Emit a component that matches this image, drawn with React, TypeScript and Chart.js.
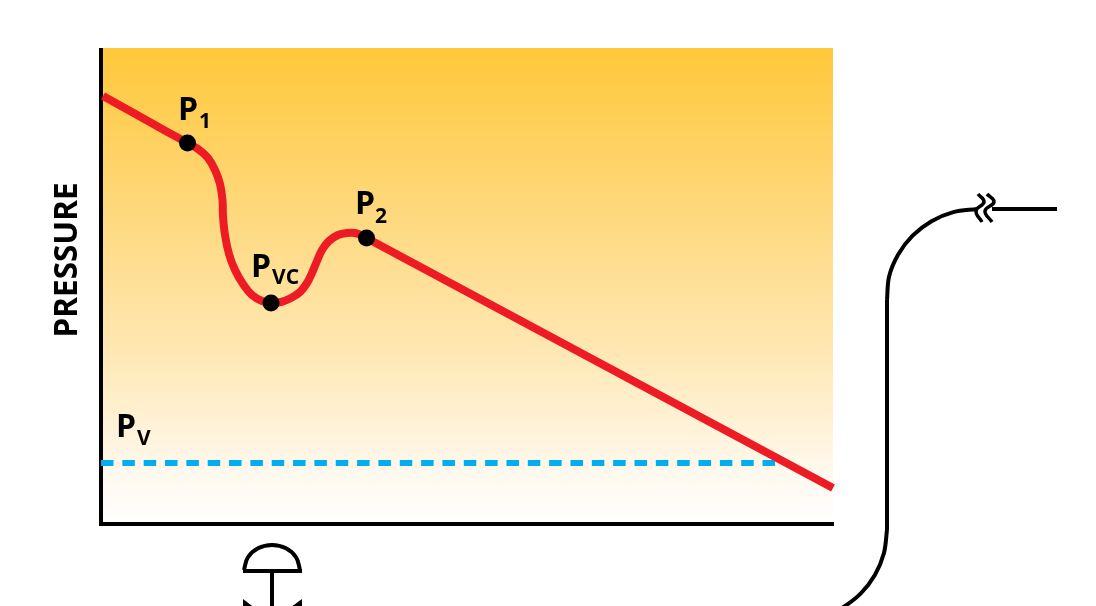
import React, { useEffect, useRef } from "react";
import { Chart, registerables } from "chart.js";

Chart.register(...registerables);

const X_MAX = 732;
const Y_MAX = 474;
const PLOT_TOP_VALUE = 476;

// Pressure profile (distance, pressure)
const pressureX = [2, 66, 86.5, 97, 107, 114, 119, 121.5, 122, 124, 128, 134, 142, 151, 161, 170, 180, 190, 199, 206, 211, 216, 221, 228, 237, 246, 254, 260, 265.5, 285, 732];
const pressureY = [428, 392.3, 381, 375, 366, 354, 340, 324, 308, 289, 270, 254, 240, 229, 223, 221, 222, 226, 232, 241, 251, 263, 274, 283, 289, 291, 291, 289, 286, 275.5, 36];

const markerX = [86.5, 170, 265.5];
const markerY = [381, 221, 286];

const vaporX = [0, 676];
const vaporY = [61, 61];

// Schematic: valve
const domeX = [143, 146.8, 157, 171, 185, 195.2, 199];
const domeY = [-46, -33.5, -24.3, -21, -24.3, -33.5, -46];
const domeBaseX = [142, 201];
const domeBaseY = [-47, -47];
const stemX = [171, 171];
const stemY = [-47, -97];
const leftWedgeX = [142, 171, 142];
const rightWedgeX = [201, 171, 201];
const wedgeY = [-75, -97, -119];

// Schematic: pipe
const pipeUpperX = [876, 852.4, 830.5, 811.6, 797.2, 788.1, 786];
const pipeUpperY = [315, 311.9, 302.8, 288.3, 269.5, 247.6, 224];
const pipeRiserX = [786, 786];
const pipeRiserY = [224, -6];
const pipeLowerX = [786, 782.9, 773.9, 759.6, 741, 720];
const pipeLowerY = [-6, -29.3, -51, -69.6, -84, -95];
const pipeTailX = [891, 956];
const pipeTailY = [315, 315];
const breakAX = [877, 883, 875, 881];
const breakBX = [886, 893, 884, 891];
const breakY = [330, 322, 313, 302];

// Labels: main text, subscript, position of main, position of subscript
const labelMain = ["P", "P", "P", "P"];
const labelSub = ["1", "VC", "2", "V"];
const labelX = [77, 150, 254, 15];
const labelY = [404, 247, 310, 87];
const labelSubX = [98, 171, 274, 36];
const labelSubY = [396, 240, 301, 79];
const axisTitle = "PRESSURE";
const axisTitleX = -33;
const axisTitleY = 264;

const FONT = '"Open Sans", "Noto Sans", sans-serif';

const toPoints = (xs: number[], ys: number[]) => xs.map((x, i) => ({ x, y: ys[i] }));

const shape = (xs: number[], ys: number[], width: number, tension = 0) => ({
  data: toPoints(xs, ys),
  showLine: true,
  pointRadius: 0,
  borderColor: "#000000",
  borderWidth: width,
  tension,
  clip: false as const,
  order: 5,
});

const backgroundPlugin = {
  id: "plotBackground",
  beforeDraw(chart: any) {
    const { ctx, chartArea: a, scales } = chart;
    const top = scales.y.getPixelForValue(PLOT_TOP_VALUE);
    const g = ctx.createLinearGradient(0, top, 0, a.bottom);
    g.addColorStop(0, "#FFC83A");
    g.addColorStop(0.32, "#FED778");
    g.addColorStop(0.63, "#FFE7B2");
    g.addColorStop(0.9, "#FFF9EF");
    g.addColorStop(1, "#FFFFFE");
    ctx.save();
    ctx.fillStyle = g;
    ctx.fillRect(a.left, top, a.right - a.left, a.bottom - top);
    ctx.restore();
  },
};

const wedgePlugin = {
  id: "valveWedges",
  afterDatasetsDraw(chart: any) {
    const { ctx, scales } = chart;
    ctx.save();
    ctx.fillStyle = "#000000";
    [leftWedgeX, rightWedgeX].forEach((xs) => {
      ctx.beginPath();
      xs.forEach((x, i) => {
        const px = scales.x.getPixelForValue(x);
        const py = scales.y.getPixelForValue(wedgeY[i]);
        if (i === 0) ctx.moveTo(px, py);
        else ctx.lineTo(px, py);
      });
      ctx.closePath();
      ctx.fill();
    });
    ctx.restore();
  },
};

const labelPlugin = {
  id: "textLabels",
  afterDatasetsDraw(chart: any) {
    const { ctx, scales } = chart;
    ctx.save();
    ctx.fillStyle = "#000000";
    ctx.textAlign = "left";
    ctx.textBaseline = "alphabetic";
    labelMain.forEach((t, i) => {
      ctx.font = `700 32px ${FONT}`;
      ctx.fillText(t, scales.x.getPixelForValue(labelX[i]), scales.y.getPixelForValue(labelY[i]));
      ctx.font = `700 21px ${FONT}`;
      ctx.fillText(labelSub[i], scales.x.getPixelForValue(labelSubX[i]), scales.y.getPixelForValue(labelSubY[i]));
    });
    ctx.translate(scales.x.getPixelForValue(axisTitleX), scales.y.getPixelForValue(axisTitleY));
    ctx.rotate(-Math.PI / 2);
    ctx.textAlign = "center";
    ctx.textBaseline = "middle";
    ctx.font = `700 31.5px ${FONT}`;
    ctx.fillText(axisTitle, 0, 0);
    ctx.restore();
  },
};

export default function App() {
  const ref = useRef<HTMLCanvasElement>(null);

  useEffect(() => {
    const chart = new Chart(ref.current as HTMLCanvasElement, {
      type: "scatter",
      data: {
        datasets: [
          {
            data: toPoints(markerX, markerY),
            showLine: false,
            pointRadius: 8.5,
            pointBackgroundColor: "#000000",
            pointBorderWidth: 0,
            clip: false,
            order: 0,
          },
          {
            data: toPoints(pressureX, pressureY),
            showLine: true,
            pointRadius: 0,
            borderColor: "#ED1C24",
            borderWidth: 8,
            tension: 0.35,
            clip: false,
            order: 1,
          },
          {
            data: toPoints(vaporX, vaporY),
            showLine: true,
            pointRadius: 0,
            borderColor: "#00AEEF",
            borderWidth: 6,
            borderDash: [12.5, 8.84],
            clip: false,
            order: 2,
          },
          shape(domeX, domeY, 4, 0.4),
          shape(domeBaseX, domeBaseY, 4),
          shape(stemX, stemY, 4),
          shape(pipeUpperX, pipeUpperY, 4, 0.35),
          shape(pipeRiserX, pipeRiserY, 4),
          shape(pipeLowerX, pipeLowerY, 4, 0.35),
          shape(pipeTailX, pipeTailY, 4),
          shape(breakAX, breakY, 3.5, 0.45),
          shape(breakBX, breakY, 3.5, 0.45),
        ] as any,
      },
      options: {
        responsive: false,
        animation: false,
        events: [],
        layout: { padding: { left: 101, right: 263, top: 50, bottom: 82 } },
        plugins: { legend: { display: false }, tooltip: { enabled: false }, title: { display: false } },
        scales: {
          x: {
            type: "linear",
            min: 0,
            max: X_MAX,
            afterFit: (s: any) => { s.height = 0; },
            grid: { display: false, drawTicks: false },
            border: { display: true, color: "#000000", width: 4 },
            ticks: { display: false },
          },
          y: {
            type: "linear",
            min: 0,
            max: Y_MAX,
            afterFit: (s: any) => { s.width = 0; },
            grid: { display: false, drawTicks: false },
            border: { display: true, color: "#000000", width: 4 },
            ticks: { display: false },
          },
        },
      } as any,
      plugins: [backgroundPlugin, wedgePlugin, labelPlugin],
    });
    return () => chart.destroy();
  }, []);

  return (
    <canvas
      ref={ref}
      width={1096}
      height={606}
      style={{ position: "fixed", left: 0, top: 0, display: "block" }}
    />
  );
}
